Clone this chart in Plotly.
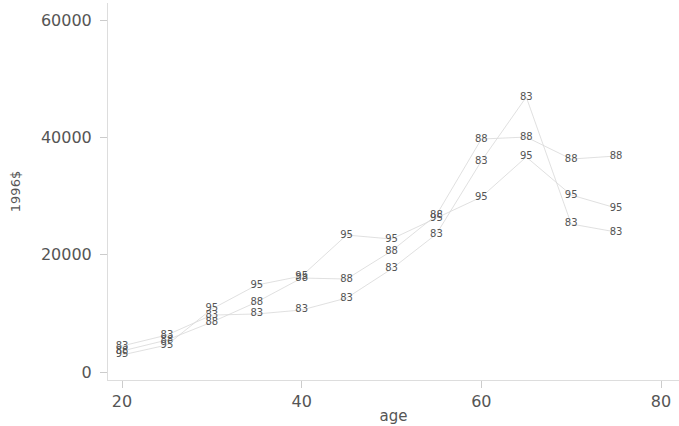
import plotly.graph_objects as go

ages = [20, 25, 30, 35, 40, 45, 50, 55, 60, 65, 70, 75]
y83 = [4430, 6300, 9700, 9890, 10570, 12610, 17560, 23520, 35960, 46870, 25230, 23860]
y88 = [3580, 5450, 8500, 11930, 16020, 15850, 20620, 26760, 39710, 40050, 36300, 36820]
y95 = [2900, 4600, 10740, 14830, 16360, 23350, 22670, 26250, 29830, 36650, 30170, 27950]
series = [("83", y83), ("88", y88), ("95", y95)]

y_ticks = [0, 20000, 40000, 60000]
y_ticktext = ["0", "20000", "40000", "60000"]
x_ticks = [20, 40, 60, 80]

FONT = "DejaVu Sans"

fig = go.Figure()
for name, vals in series:
    fig.add_trace(go.Scatter(
        x=ages, y=vals, mode="lines+text", name=name,
        text=[name] * len(ages), textposition="middle center",
        textfont=dict(family=FONT, size=10, color="#555555"),
        line=dict(color="#d8d8d8", width=0.8),
        showlegend=False, cliponaxis=False,
    ))

fig.update_layout(
    width=679, height=426,
    margin=dict(l=108, r=0, t=3, b=46),
    paper_bgcolor="white", plot_bgcolor="white",
    font=dict(family=FONT, color="#555555"),
    xaxis=dict(
        range=[18.44, 82.0], tickvals=x_ticks, showgrid=False, zeroline=False,
        automargin=False,
        showline=True, linecolor="#dddddd", linewidth=1,
        ticks="outside", ticklen=7, tickcolor="#cccccc",
        tickfont=dict(family=FONT, size=16, color="#555555"),
        title=dict(text="age", font=dict(family=FONT, size=15, color="#555555"), standoff=0),
    ),
    yaxis=dict(
        range=[-1364, 62900], tickvals=y_ticks, ticktext=y_ticktext,
        showgrid=False, zeroline=False, automargin=False,
        showline=True, linecolor="#dddddd", linewidth=1,
        ticks="outside", ticklen=7, tickcolor="#cccccc", ticklabelstandoff=5,
        tickfont=dict(family=FONT, size=16, color="#555555"),
        title=dict(text="1996$", font=dict(family=FONT, size=13, color="#555555"), standoff=17),
    ),
)

fig.write_html("out.html", config={"displayModeBar": False},
               post_script="document.body.style.margin='0';")
